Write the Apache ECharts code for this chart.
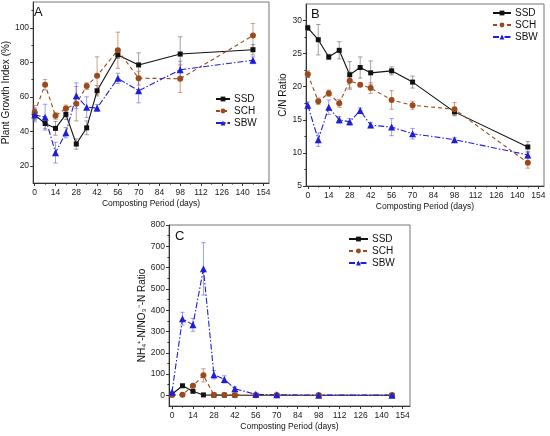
<!DOCTYPE html>
<html><head><meta charset="utf-8">
<script src="https://cdn.jsdelivr.net/npm/echarts@6/dist/echarts.min.js"></script>
<style>html,body{margin:0;padding:0;background:#fff}#c{width:550px;height:436px}</style>
</head><body><div id="c"></div>
<script>
// ---- shared ----
const days = [0, 7, 14, 21, 28, 35, 42, 56, 70, 98, 147];
const xTickLabels = [0, 14, 28, 42, 56, 70, 84, 98, 112, 126, 140, 154];
const xMinorTicks = [7, 21, 35, 49, 63, 77, 91, 105, 119, 133, 147];
const names = ['SSD', 'SCH', 'SBW'];

// ---- Panel A: Plant Growth Index (%) ----
const A_SSD = [49.5, 44.5, 41.7, 49.8, 32.6, 42.0, 63.5, 84.3, 78.5, 84.8, 87.3];
const A_SCH = [51.0, 67.0, 49.0, 53.2, 56.0, 66.2, 72.2, 87.0, 70.8, 70.5, 95.5];
const A_SBW = [49.5, 48.2, 27.6, 39.2, 60.6, 54.0, 53.5, 70.7, 63.5, 75.7, 81.2];
const A_SSD_err = [3, 3, 4, 3, 3, 4, 3, 2, 7, 10, 3];
const A_SCH_err = [4, 3, 2, 2, 10, 2, 11, 10.5, 4, 8, 7];
const A_SBW_err = [4, 7.5, 6, 3, 7.5, 6, 2, 3, 7, 5, 2];
const A_yTicks = [20, 40, 60, 80, 100];
const A_yMinor = [30, 50, 70, 90, 110];

// ---- Panel B: C/N Ratio ----
const B_SSD = [28.9, 27.1, 24.5, 25.5, 21.8, 22.9, 22.1, 22.4, 20.7, 16.2, 10.9];
const B_SCH = [21.9, 17.8, 19.0, 17.5, 20.9, 20.3, 19.8, 18.0, 17.2, 16.6, 8.5];
const B_SBW = [17.2, 12.0, 16.9, 15.0, 14.7, 16.4, 14.2, 13.9, 12.9, 12.0, 9.7];
const B_SSD_err = [0.4, 2.3, 0.4, 1.3, 2.0, 1.6, 1.8, 0.6, 0.9, 0.5, 0.8];
const B_SCH_err = [0.5, 0.5, 0.5, 0.6, 1.3, 0.3, 0.8, 1.4, 0.6, 1.0, 0.8];
const B_SBW_err = [0.5, 1.0, 1.1, 0.5, 0.5, 0.4, 0.4, 1.3, 0.8, 0.3, 0.5];
const B_yTicks = [5, 10, 15, 20, 25, 30];
const B_yMinor = [7.5, 12.5, 17.5, 22.5, 27.5];

// ---- Panel C: NH4+-N/NO3--N Ratio ----
const C_SSD = [5, 45, 19, 2, 1, 1, 0.5, 0.5, 0.3, 0.2, 0.2];
const C_SCH = [2, 3, 45, 94, 2, 1.5, 1, 0.5, 0.5, 0.3, 0.3];
const C_SBW = [15, 360, 331, 594, 97, 75, 31, 5, 3, 1, 1];
const C_SSD_err = [2, 5, 3, 1, 0, 0, 0, 0, 0, 0, 0];
const C_SCH_err = [1, 2, 5, 31, 2, 1, 1, 0, 0, 0, 0];
const C_SBW_err = [5, 30, 30, 123, 20, 17, 8, 2, 2, 1, 1];
const C_yTicks = [0, 100, 200, 300, 400, 500, 600, 700, 800];
const C_yMinor = [50, 150, 250, 350, 450, 550, 650, 750];

const FONT = 'Liberation Sans, Arial, Helvetica, sans-serif';
const colors = {SSD: '#111111', SCH: '#9a4a1c', SBW: '#1f1fd8'};
const errColors = {SSD: 'rgba(110,110,110,0.65)', SCH: 'rgba(170,100,60,0.6)', SBW: 'rgba(80,80,220,0.55)'};
const symbols = {SSD: 'rect', SCH: 'circle', SBW: 'triangle'};
const symSizes = {SSD: 5, SCH: 6, SBW: 7};
const lineTypes = {SSD: 'solid', SCH: [4, 3], SBW: [6, 2, 1.5, 2]};

const chart = echarts.init(document.getElementById('c'), null, {renderer: 'canvas'});

function xAxes(grid, min, max) {
  return [
    {type: 'value', gridIndex: grid, min: min, max: max, position: 'bottom',
     axisLine: {show: true, onZero: false, lineStyle: {color: '#333', width: 1}},
     axisTick: {show: true, length: 3, customValues: xTickLabels, lineStyle: {color: '#333'}},
     axisLabel: {customValues: xTickLabels, fontSize: 8.5, margin: 5, color: '#222', fontFamily: FONT},
     splitLine: {show: false},
     name: 'Composting Period (days)', nameLocation: 'middle', nameGap: 16,
     nameTextStyle: {fontSize: 8.5, color: '#111', fontFamily: FONT}},
    {type: 'value', gridIndex: grid, min: min, max: max, position: 'bottom',
     axisLine: {show: false, onZero: false},
     axisTick: {show: true, length: 1.6, customValues: xMinorTicks, lineStyle: {color: '#333'}},
     axisLabel: {show: false}, splitLine: {show: false}}
  ];
}
function yAxes(grid, min, max, ticks, minor, name, gap) {
  return [
    {type: 'value', gridIndex: grid, min: min, max: max, position: 'left',
     axisLine: {show: true, onZero: false, lineStyle: {color: '#333', width: 1}},
     axisTick: {show: true, length: 3, customValues: ticks, lineStyle: {color: '#333'}},
     axisLabel: {customValues: ticks, fontSize: 8.5, margin: 4, color: '#222', fontFamily: FONT},
     splitLine: {show: false},
     name: name, nameLocation: 'middle', nameGap: gap,
     nameTextStyle: {fontSize: 10, color: '#111', fontFamily: FONT}},
    {type: 'value', gridIndex: grid, min: min, max: max, position: 'left',
     axisLine: {show: false, onZero: false},
     axisTick: {show: true, length: 1.6, customValues: minor, lineStyle: {color: '#333'}},
     axisLabel: {show: false}, splitLine: {show: false}}
  ];
}

function errRender(params, api) {
  const x = api.value(0), lo = api.value(1), hi = api.value(2);
  const p1 = api.coord([x, hi]), p2 = api.coord([x, lo]);
  const cap = 2.2;
  const style = {stroke: api.visual('color'), lineWidth: 1, fill: null};
  return {type: 'group', children: [
    {type: 'line', shape: {x1: p1[0], y1: p1[1], x2: p2[0], y2: p2[1]}, style: style},
    {type: 'line', shape: {x1: p1[0] - cap, y1: p1[1], x2: p1[0] + cap, y2: p1[1]}, style: style},
    {type: 'line', shape: {x1: p2[0] - cap, y1: p2[1], x2: p2[0] + cap, y2: p2[1]}, style: style}
  ]};
}

function panelSeries(axisIdx, vals, errs) {
  const out = [];
  names.forEach(function (n, k) {
    const v = vals[k], e = errs[k];
    out.push({
      name: 'err_' + n, type: 'custom', xAxisIndex: axisIdx, yAxisIndex: axisIdx,
      renderItem: errRender, itemStyle: {color: errColors[n]}, z: 1, silent: true,
      encode: {x: 0, y: [1, 2]},
      data: days.map(function (d, i) { return [d, v[i] - e[i], v[i] + e[i]]; })
    });
  });
  names.forEach(function (n, k) {
    const v = vals[k];
    out.push({
      name: n, type: 'line', xAxisIndex: axisIdx, yAxisIndex: axisIdx, z: 3,
      symbol: symbols[n], symbolSize: symSizes[n], showSymbol: true,
      itemStyle: {color: colors[n]},
      lineStyle: {color: colors[n], width: 1.1, type: lineTypes[n]},
      data: days.map(function (d, i) { return [d, v[i]]; })
    });
  });
  return out;
}

function legend(left, top, w) {
  return {orient: 'vertical', left: left, top: top, itemWidth: w, itemHeight: 6, itemGap: 2,
    padding: 0, data: names, selectedMode: false,
    textStyle: {fontSize: 10, color: '#111', fontFamily: FONT, padding: [0, 0, 0, -1]}};
}

const option = {
  animation: false,
  backgroundColor: '#fff',
  textStyle: {fontFamily: FONT},
  title: [
    {text: 'A', left: 34, top: 6, padding: 0, textStyle: {fontSize: 13, fontWeight: 'normal', color: '#111', fontFamily: FONT}},
    {text: 'B', left: 311, top: 8, padding: 0, textStyle: {fontSize: 13, fontWeight: 'normal', color: '#111', fontFamily: FONT}},
    {text: 'C', left: 175, top: 230, padding: 0, textStyle: {fontSize: 13, fontWeight: 'normal', color: '#111', fontFamily: FONT}}
  ],
  grid: [
    {left: 29, top: 2, width: 240, height: 181, show: true, borderColor: '#777', borderWidth: 1, containLabel: false},
    {left: 306, top: 4, width: 238, height: 182, show: true, borderColor: '#777', borderWidth: 1, containLabel: false},
    {left: 169, top: 225, width: 241, height: 181, show: true, borderColor: '#777', borderWidth: 1, containLabel: false}
  ],
  legend: [legend(215, 94, 14), legend(492, 8, 18), legend(348, 234, 19)],
  xAxis: [].concat(xAxes(0, -1.1, 157.8), xAxes(1, -1.2, 157.8), xAxes(2, -2, 159)),
  yAxis: [].concat(
    yAxes(0, 10, 115, A_yTicks, A_yMinor, 'Plant Growth Index (%)', 17),
    yAxes(1, 5, 32.5, B_yTicks, B_yMinor, 'C/N Ratio', 13),
    yAxes(2, -50, 800, C_yTicks, C_yMinor, 'NH₄⁺-N/NO₃⁻-N Ratio', 21)
  ),
  series: [].concat(
    panelSeries(0, [A_SSD, A_SCH, A_SBW], [A_SSD_err, A_SCH_err, A_SBW_err]),
    panelSeries(2, [B_SSD, B_SCH, B_SBW], [B_SSD_err, B_SCH_err, B_SBW_err]),
    panelSeries(4, [C_SSD, C_SCH, C_SBW], [C_SSD_err, C_SCH_err, C_SBW_err])
  )
};
chart.setOption(option);
</script></body></html>
